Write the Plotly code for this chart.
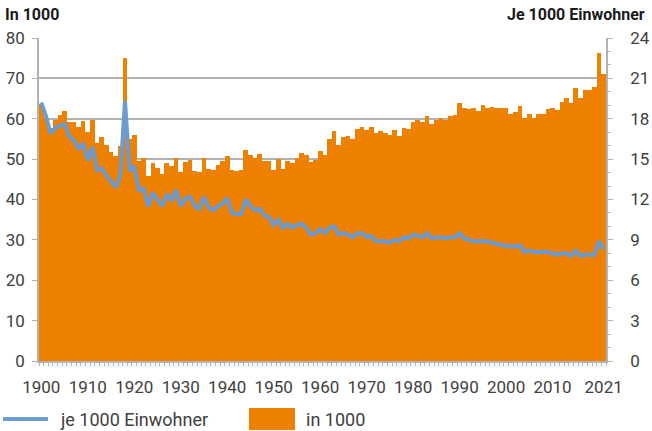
import plotly.graph_objects as go

years = list(range(1900, 2022))

deaths_1000 = [
    63.6, 60.2, 57.6, 59.8, 61.0, 62.0, 59.3, 59.3, 57.9, 59.5,
    56.6, 59.8, 54.1, 55.6, 53.6, 51.7, 50.7, 53.3, 75.0, 55.0,
    56.0, 49.6, 50.2, 45.9, 49.0, 47.8, 46.4, 49.0, 48.2, 50.2,
    46.8, 49.3, 49.8, 47.1, 46.9, 50.2, 47.6, 47.4, 48.6, 49.6,
    50.8, 47.4, 47.0, 47.4, 52.3, 51.1, 50.4, 51.3, 49.6, 49.6,
    47.4, 50.1, 47.6, 49.6, 49.0, 50.2, 51.5, 51.1, 49.3, 49.9,
    52.1, 51.1, 55.0, 57.0, 53.6, 55.5, 55.8, 55.0, 57.5, 58.0,
    57.3, 58.0, 56.5, 57.0, 56.5, 56.0, 57.3, 55.8, 57.8, 57.5,
    59.3, 59.8, 59.3, 60.7, 58.8, 59.8, 60.3, 59.6, 60.7, 61.0,
    64.0, 62.7, 62.5, 62.7, 62.0, 63.5, 62.7, 63.0, 62.7, 62.7,
    62.7, 61.2, 61.7, 63.2, 60.2, 61.2, 60.2, 61.2, 61.2, 62.5,
    62.7, 62.2, 64.2, 65.2, 64.0, 67.7, 65.2, 67.2, 67.2, 67.9,
    76.2, 71.2,
]

rate_per_1000 = [
    19.2, 18.2, 16.9, 17.3, 17.5, 17.6, 16.7, 16.4, 15.8, 16.1,
    14.9, 15.9, 14.2, 14.3, 13.8, 13.3, 12.9, 13.8, 19.3, 14.1,
    14.5, 12.7, 12.8, 11.5, 12.5, 12.0, 11.5, 12.4, 11.9, 12.7,
    11.5, 12.1, 12.2, 11.5, 11.3, 12.2, 11.4, 11.2, 11.5, 11.7,
    12.1, 11.0, 10.9, 10.9, 12.0, 11.5, 11.2, 11.3, 10.8, 10.7,
    10.1, 10.5, 9.9, 10.2, 9.9, 10.1, 10.2, 9.9, 9.4, 9.5,
    9.8, 9.5, 9.9, 10.0, 9.4, 9.5, 9.4, 9.2, 9.5, 9.5,
    9.2, 9.3, 8.9, 8.9, 8.9, 8.8, 9.0, 8.9, 9.2, 9.1,
    9.4, 9.3, 9.2, 9.5, 9.1, 9.2, 9.2, 9.1, 9.2, 9.2,
    9.5, 9.1, 9.0, 8.9, 8.9, 8.9, 8.9, 8.8, 8.7, 8.6,
    8.6, 8.5, 8.5, 8.6, 8.1, 8.2, 8.1, 8.1, 8.1, 8.1,
    8.0, 7.9, 8.0, 8.0, 7.8, 8.2, 7.8, 7.9, 7.9, 7.9,
    8.9, 8.3,
]

tick_years = [1900, 1910, 1920, 1930, 1940, 1950, 1960, 1970, 1980, 1990, 2000, 2010, 2021]

ORANGE = "#ee8200"
BLUE = "#6b9bd1"
GRID = "#b2b2b2"
TEXT = "#404040"
FONT = "Roboto"

W, H = 652, 431
L, R, T, B = 39, 46, 38, 70


def px(x):
    return (x - L) / (W - L - R)


def py(y):
    return (H - B - y) / (H - T - B)


fig = go.Figure()
fig.add_trace(go.Bar(x=years, y=deaths_1000, name="in 1000",
                     marker=dict(color=ORANGE, line=dict(width=0)),
                     showlegend=False))
fig.add_trace(go.Scatter(x=years, y=rate_per_1000, name="je 1000 Einwohner",
                         yaxis="y2", mode="lines",
                         line=dict(color=BLUE, width=4),
                         showlegend=False))

fig.update_layout(
    width=W, height=H,
    margin=dict(l=L, r=R, t=T, b=B),
    plot_bgcolor="white", paper_bgcolor="white",
    font=dict(family=FONT, color=TEXT, size=17),
    bargap=0,
    xaxis=dict(range=[1899.5, 2021.5], tickvals=tick_years,
               ticks="", showgrid=False, zeroline=False, automargin=False,
               showline=True, linecolor=GRID, linewidth=1.5,
               ticklabelstandoff=10,
               minor=dict(tick0=1899.5, dtick=1, ticks="outside",
                          ticklen=3, tickcolor=GRID, showgrid=False),
               tickfont=dict(size=17, color=TEXT)),
    yaxis=dict(range=[0, 80], dtick=10, showgrid=True, gridcolor=GRID,
               gridwidth=1.5, zeroline=False, showline=True, automargin=False,
               linecolor=GRID, linewidth=1.5, ticks="outside", ticklen=5,
               tickcolor=GRID, tickfont=dict(size=17, color=TEXT),
               ticklabelstandoff=4),
    yaxis2=dict(range=[0, 24], dtick=3, overlaying="y", side="right",
                showgrid=False, zeroline=False, showline=True, automargin=False,
                linecolor=GRID, linewidth=1.5, ticks="outside", ticklen=5,
                tickcolor=GRID, tickfont=dict(size=17, color=TEXT),
                ticklabelstandoff=14,
                minor=dict(dtick=1, ticks="outside", ticklen=3, tickcolor=GRID)),
)

# axis titles
fig.add_annotation(text="<b>In 1000</b>", xref="paper", yref="paper",
                   x=px(3), y=py(3), xanchor="left", yanchor="top",
                   showarrow=False, font=dict(size=16, color="#1a1a1a"))
fig.add_annotation(text="<b>Je 1000 Einwohner</b>", xref="paper", yref="paper",
                   x=px(647), y=py(3), xanchor="right", yanchor="top",
                   showarrow=False, font=dict(size=16, color="#1a1a1a"))

# legend drawn by hand
fig.add_shape(type="line", xref="paper", yref="paper",
              x0=px(3), x1=px(48), y0=py(419), y1=py(419),
              line=dict(color=BLUE, width=4))
fig.add_annotation(text="je 1000 Einwohner", xref="paper", yref="paper",
                   x=px(58), y=py(419), xanchor="left", yanchor="middle",
                   showarrow=False, font=dict(size=18, color=TEXT))
fig.add_shape(type="rect", xref="paper", yref="paper",
              x0=px(249), x1=px(295), y0=py(408), y1=py(430),
              fillcolor=ORANGE, line=dict(width=0))
fig.add_annotation(text="in 1000", xref="paper", yref="paper",
                   x=px(304), y=py(419), xanchor="left", yanchor="middle",
                   showarrow=False, font=dict(size=18, color=TEXT))

# the page's default body margin would shift the figure by 8px
fig.write_html("out.html", config={"displayModeBar": False},
               post_script="document.body.style.margin='0';")
